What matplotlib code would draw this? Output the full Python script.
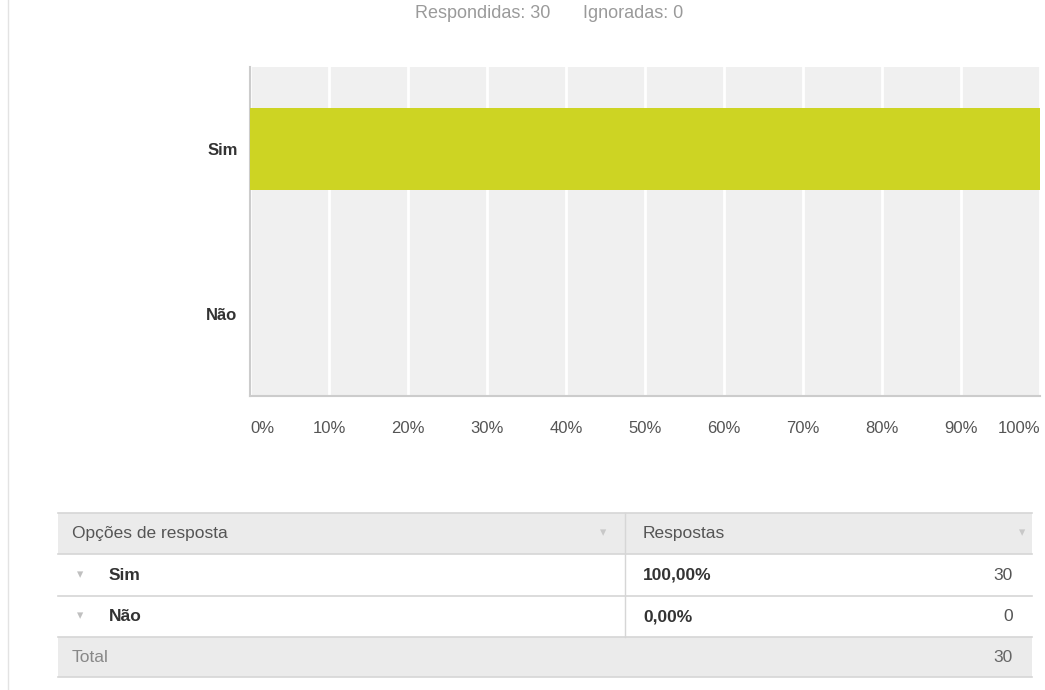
import matplotlib
matplotlib.use("Agg")
import matplotlib.pyplot as plt
from matplotlib.patches import Rectangle

# data
options = ["Sim", "Não"]
counts = [30, 0]
answered, skipped = 30, 0
xticks = [0, 10, 20, 30, 40, 50, 60, 70, 80, 90, 100]

total = sum(counts)
pcts = [100.0 * c / total for c in counts]

BAR = "#cdd423"
BG = "#f0f0f0"
plt.rcParams["font.family"] = ["Liberation Sans", "DejaVu Sans"]

W, H = 1045, 690
fig = plt.figure(figsize=(W / 100, H / 100), dpi=100)

# pixel-space canvas for the frame and table
bg = fig.add_axes([0, 0, 1, 1])
bg.set_xlim(0, W); bg.set_ylim(H, 0); bg.axis("off")
bg.plot([8, 8], [0, H], color="#e3e3e3", lw=1)

bg.text(415, 14, f"Respondidas: {answered}", ha="left", va="center",
        fontsize=13, color="#9a9a9a")
bg.text(583, 14, f"Ignoradas: {skipped}", ha="left", va="center",
        fontsize=13, color="#9a9a9a")

# ---- bar chart ----
ax = fig.add_axes([250 / W, 1 - 396 / H, 790 / W, 329 / H])
ax.set_facecolor(BG)
ypos = list(range(len(options)))[::-1]
ax.barh(ypos, pcts, height=0.5, color=BAR, zorder=3)
ax.set_xlim(0, 100); ax.set_ylim(-0.5, len(options) - 0.5)
ax.set_xticks(xticks)
ax.grid(axis="x", color="white", lw=2, zorder=1)
ax.set_axisbelow(True)
ax.set_yticks(ypos)
ax.set_yticklabels(options, fontsize=12, fontweight="bold", color="#333333")
ax.tick_params(axis="y", length=0, pad=9)
ax.tick_params(axis="x", length=0, pad=18, labelsize=12, labelcolor="#555555")
ax.set_xticklabels([f"{t}%" for t in xticks])
labs = ax.get_xticklabels()
labs[0].set_ha("left"); labs[-1].set_ha("right")
for s in ("top", "right"):
    ax.spines[s].set_visible(False)
for s in ("left", "bottom"):
    ax.spines[s].set_color("#cccccc"); ax.spines[s].set_linewidth(1.5)

# ---- table ----
L, R, MID = 58, 1032, 625
rows_y = [513, 554, 596, 637, 677]
LINE = "#d6d6d6"
FS = 12.5
bg.add_patch(Rectangle((L, rows_y[0]), R - L, rows_y[1] - rows_y[0], fc="#ebebeb", ec="none"))
bg.add_patch(Rectangle((L, rows_y[3]), R - L, rows_y[4] - rows_y[3], fc="#ebebeb", ec="none"))
for y in rows_y:
    bg.plot([L, R], [y, y], color=LINE, lw=1.2)
bg.plot([MID, MID], [rows_y[0], rows_y[3]], color=LINE, lw=1)

def cy(i):
    return (rows_y[i] + rows_y[i + 1]) / 2

bg.text(72, cy(0), "Opções de resposta", va="center", fontsize=FS, color="#555555")
bg.text(643, cy(0), "Respostas", va="center", fontsize=FS, color="#555555")
bg.text(603, cy(0), "▾", va="center", ha="center", fontsize=9, color="#c8c8c8")
bg.text(1022, cy(0), "▾", va="center", ha="center", fontsize=9, color="#c8c8c8")
for i, (opt, c, p) in enumerate(zip(options, counts, pcts)):
    y = cy(i + 1)
    bg.text(80, y, "▾", va="center", ha="center", fontsize=9, color="#c0c0c0")
    bg.text(109, y, opt, va="center", fontsize=FS, fontweight="bold", color="#333333")
    bg.text(643, y, f"{p:.2f}%".replace(".", ","), va="center", fontsize=FS,
            fontweight="bold", color="#333333")
    bg.text(1013, y, str(c), va="center", ha="right", fontsize=FS, color="#555555")
bg.text(72, cy(3), "Total", va="center", fontsize=FS, color="#888888")
bg.text(1013, cy(3), str(total), va="center", ha="right", fontsize=FS, color="#666666")

fig.savefig("out.png", dpi=100)
